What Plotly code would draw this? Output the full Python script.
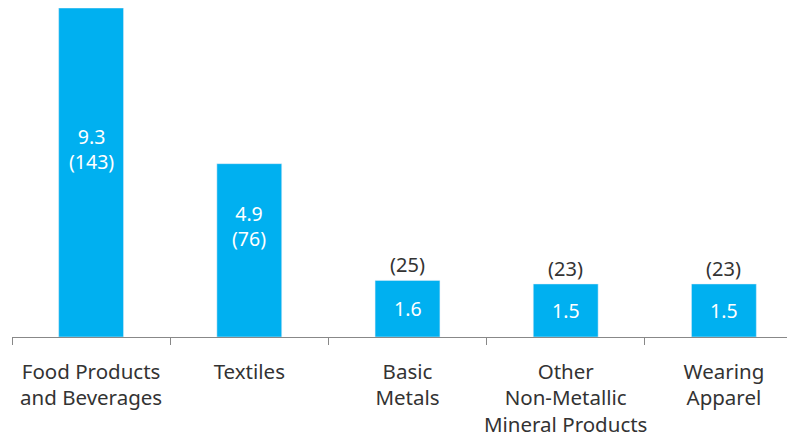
import plotly.graph_objects as go

categories = ["Food Products<br>and Beverages", "Textiles", "Basic<br>Metals",
              "Other<br>Non-Metallic<br>Mineral Products", "Wearing<br>Apparel"]
values = [9.3, 4.9, 1.6, 1.5, 1.5]
counts = [143, 76, 25, 23, 23]

BAR = "#00B0F0"
TXT = "#333333"
FONT = "Noto Sans"

fig = go.Figure(go.Bar(x=categories, y=values, marker_color=BAR, width=0.41,
                       hoverinfo="skip"))

ann = []
for c, v, n in zip(categories, values, counts):
    if v > 3:
        ann.append(dict(x=c, y=v / 2, text=f"{v}<br>({n})", showarrow=False,
                        yshift=24, font=dict(color="white", size=19.5, family=FONT)))
    else:
        ann.append(dict(x=c, y=v / 2, text=f"{v}", showarrow=False,
                        font=dict(color="white", size=19.5, family=FONT)))
        ann.append(dict(x=c, y=v, text=f"({n})", showarrow=False, yanchor="bottom",
                        yshift=0, font=dict(color=TXT, size=20, family=FONT)))

fig.update_layout(
    width=795, height=437,
    margin=dict(l=4, r=0, t=0, b=108),
    plot_bgcolor="white", paper_bgcolor="white",
    showlegend=False,
    annotations=ann,
    font=dict(family=FONT, color=TXT, size=19),
    xaxis=dict(type="category", range=[-0.5, 4.5], tickson="boundaries",
               ticks="outside", ticklen=7, tickcolor="#888888", tickwidth=1,
               showline=True, linecolor="#888888", linewidth=1,
               showgrid=False, ticklabelstandoff=16, tickangle=0, automargin=False,
               tickfont=dict(size=20.5, color=TXT, family=FONT)),
    yaxis=dict(range=[0, 9.3], visible=False, showgrid=False, zeroline=False,
               automargin=False),
)

fig.write_html("out.html")
